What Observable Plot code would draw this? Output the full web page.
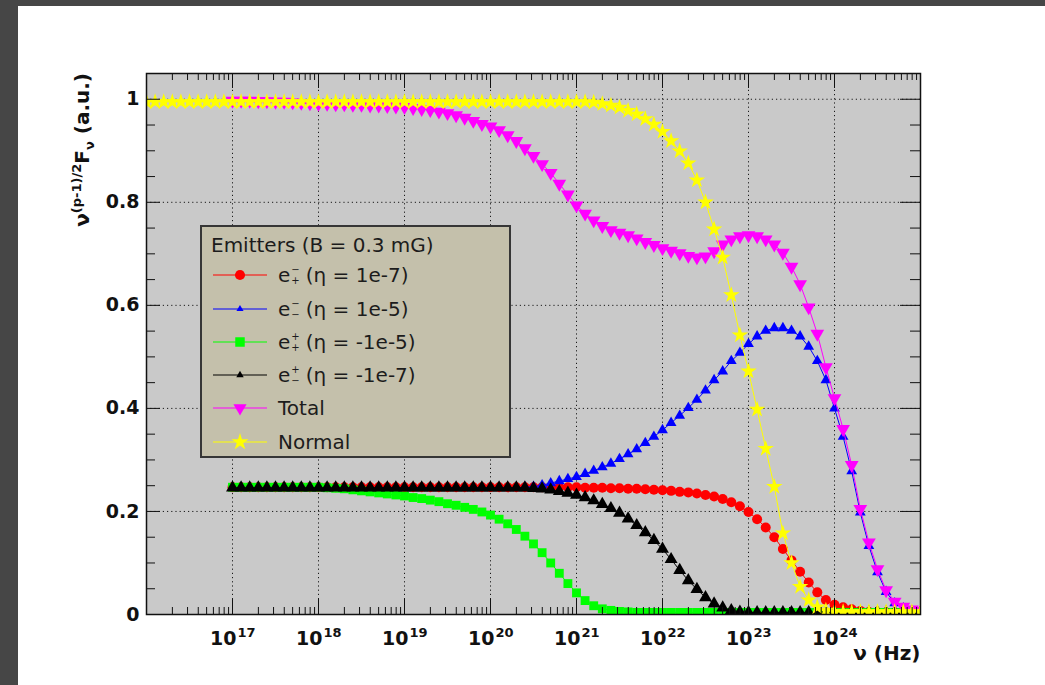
<!DOCTYPE html>
<html>
<head>
<meta charset="utf-8">
<script src="https://cdn.jsdelivr.net/npm/d3@7"></script>
<script src="https://cdn.jsdelivr.net/npm/@observablehq/plot@0.6"></script>
<style>
  html, body { margin: 0; padding: 0; }
  body { background: #464646; width: 1045px; height: 685px; overflow: hidden; position: relative; font-family: "DejaVu Sans", sans-serif; }
  #panel { position: absolute; left: 18px; top: 6px; width: 1027px; height: 679px; background: #ffffff; }
  #chart { position: absolute; left: 0; top: 0; }
  #legend { position: absolute; left: 200px; top: 225px; width: 311px; height: 233px; box-sizing: border-box;
            background: #c4c0ab; border: 2px solid #363636; color: #1c1c1c; font-size: 20px; }
  #legend .title { position: absolute; left: 9px; top: 6px; white-space: nowrap; }
  #legend .row { position: absolute; left: 0; height: 26px; display: flex; align-items: center; white-space: nowrap; }
  #legend .row svg { margin-left: 11px; margin-right: 11px; }
  .lab { display: flex; align-items: center; }
  .ss { display: inline-flex; flex-direction: column; justify-content: center; font-size: 10px; line-height: 11px; height: 24px; margin: 0 6px 0 1px; }
</style>
</head>
<body>
<div id="panel"></div>
<div id="chart"></div>
<div id="legend"></div>
<script>
// ---------------- data ----------------
// sample points: log10(nu / Hz)
const logNu = [
  16.0,16.1,16.2,16.3,16.4,16.5,16.6,16.7,16.8,16.9,
  17.0,17.1,17.2,17.3,17.4,17.5,17.6,17.7,17.8,17.9,
  18.0,18.1,18.2,18.3,18.4,18.5,18.6,18.7,18.8,18.9,
  19.0,19.1,19.2,19.3,19.4,19.5,19.6,19.7,19.8,19.9,
  20.0,20.1,20.2,20.3,20.4,20.5,20.6,20.7,20.8,20.9,
  21.0,21.1,21.2,21.3,21.4,21.5,21.6,21.7,21.8,21.9,
  22.0,22.1,22.2,22.3,22.4,22.5,22.6,22.7,22.8,22.9,
  23.0,23.1,23.2,23.3,23.4,23.5,23.6,23.7,23.8,23.9,
  24.0,24.1,24.2,24.3,24.4,24.5,24.6,24.7,24.8,24.9,
  25.0
];

// e-_+ (eta = 1e-7), red
const ePlusEta1e7 = [
  null,null,null,null,null,null,null,null,null,null,
  0.247,0.247,0.247,0.247,0.247,0.247,0.247,0.247,0.247,0.247,
  0.247,0.247,0.247,0.247,0.247,0.247,0.247,0.247,0.247,0.247,
  0.247,0.247,0.247,0.247,0.247,0.247,0.247,0.247,0.247,0.247,
  0.247,0.247,0.247,0.247,0.247,0.247,0.247,0.247,0.247,0.247,
  0.247,0.246,0.246,0.246,0.245,0.245,0.244,0.244,0.243,0.242,
  0.241,0.240,0.238,0.237,0.235,0.232,0.229,0.224,0.218,0.210,
  0.199,0.185,0.169,0.150,0.127,0.105,0.083,0.062,0.043,0.028,
  0.019,0.014,0.010,0.007,0.005,0.004,0.004,0.004,0.004,0.004,
  0.004
];

// e-_- (eta = 1e-5), blue
const eMinusEta1e5 = [
  null,null,null,null,null,null,null,null,null,null,
  0.246,0.246,0.246,0.246,0.246,0.246,0.246,0.246,0.246,0.246,
  0.246,0.246,0.246,0.246,0.246,0.246,0.246,0.246,0.246,0.246,
  0.246,0.246,0.246,0.246,0.246,0.246,0.246,0.246,0.246,0.246,
  0.246,0.246,0.246,0.246,0.247,0.248,0.251,0.255,0.259,0.263,
  0.267,0.273,0.279,0.286,0.293,0.302,0.311,0.321,0.333,0.345,
  0.358,0.372,0.386,0.401,0.417,0.435,0.455,0.472,0.492,0.508,
  0.525,0.540,0.551,0.556,0.556,0.551,0.540,0.520,0.492,0.455,
  0.400,0.345,0.278,0.198,0.133,0.082,0.044,0.022,0.012,0.007,
  0.005
];

// e+_+ (eta = -1e-5), green
const pPlusEta1e5 = [
  null,null,null,null,null,null,null,null,null,null,
  0.247,0.247,0.247,0.247,0.247,0.247,0.247,0.247,0.247,0.247,
  0.247,0.246,0.245,0.244,0.242,0.240,0.238,0.236,0.234,0.232,
  0.230,0.227,0.225,0.222,0.219,0.215,0.212,0.208,0.204,0.199,
  0.193,0.185,0.176,0.165,0.152,0.137,0.120,0.100,0.080,0.060,
  0.042,0.027,0.017,0.011,0.008,0.006,0.005,0.004,0.004,0.004,
  0.004,0.004,0.004,0.004,0.004,0.004,0.004,0.004,0.004,0.004,
  0.004,0.004,0.004,0.004,0.004,0.004,0.004,0.004,0.004,0.004,
  0.004,0.004,0.004,0.004,0.004,0.004,0.004,0.004,0.004,0.004,
  0.004
];

// e+_- (eta = -1e-7), black
const pMinusEta1e7 = [
  null,null,null,null,null,null,null,null,null,null,
  0.246,0.246,0.246,0.246,0.246,0.246,0.246,0.246,0.246,0.246,
  0.246,0.246,0.246,0.246,0.246,0.246,0.246,0.246,0.246,0.246,
  0.246,0.246,0.246,0.246,0.246,0.246,0.246,0.246,0.246,0.246,
  0.246,0.246,0.246,0.246,0.246,0.245,0.244,0.242,0.239,0.236,
  0.232,0.227,0.221,0.214,0.206,0.197,0.186,0.173,0.159,0.144,
  0.127,0.107,0.086,0.066,0.049,0.033,0.021,0.013,0.008,0.005,
  0.004,0.004,0.004,0.004,0.004,0.004,0.004,0.004,0.004,0.004,
  0.004,0.004,0.004,0.004,0.004,0.004,0.004,0.004,0.004,0.004,
  0.004
];

// Total, magenta
const totalValues = [
  null,null,null,null,null,null,null,null,null,null,
  0.997,0.997,0.997,0.996,0.996,0.995,0.995,0.994,0.993,0.992,
  0.991,0.991,0.990,0.990,0.989,0.989,0.988,0.988,0.987,0.986,
  0.985,0.983,0.981,0.979,0.976,0.973,0.969,0.964,0.958,0.952,
  0.947,0.940,0.930,0.919,0.905,0.890,0.874,0.857,0.836,0.815,
  0.794,0.778,0.765,0.754,0.746,0.741,0.736,0.730,0.723,0.717,
  0.711,0.706,0.701,0.696,0.693,0.695,0.705,0.718,0.728,0.734,
  0.736,0.734,0.728,0.718,0.702,0.675,0.641,0.596,0.545,0.480,
  0.420,0.360,0.290,0.205,0.140,0.088,0.047,0.025,0.015,0.010,
  0.007
];

// Normal, yellow
const normalValues = [
  0.995,0.995,0.995,0.995,0.995,0.995,0.995,0.995,0.995,0.995,
  0.995,0.995,0.995,0.995,0.995,0.995,0.995,0.995,0.995,0.995,
  0.995,0.995,0.995,0.995,0.995,0.995,0.995,0.995,0.995,0.995,
  0.995,0.995,0.995,0.995,0.995,0.995,0.995,0.995,0.995,0.995,
  0.995,0.995,0.995,0.995,0.995,0.995,0.995,0.995,0.995,0.995,
  0.995,0.995,0.994,0.991,0.988,0.984,0.978,0.971,0.962,0.951,
  0.937,0.919,0.899,0.876,0.843,0.800,0.748,0.693,0.620,0.542,
  0.472,0.398,0.322,0.248,0.158,0.100,0.054,0.028,0.014,0.008,
  0.005,0.005,0.005,0.005,0.005,0.005,0.005,0.005,0.005,0.005,
  0.005
];

// axis ticks and labels
const xTickValues = [1e17, 1e18, 1e19, 1e20, 1e21, 1e22, 1e23, 1e24];
const xTickExponents = ["17", "18", "19", "20", "21", "22", "23", "24"];
const yTickValues = [0, 0.2, 0.4, 0.6, 0.8, 1];
const yTickLabels = ["0", "0.2", "0.4", "0.6", "0.8", "1"];

// ---------------- chart ----------------
const W = 1045, H = 685;
const mL = 146, mR = 125, mT = 73, mB = 71;
const innerW = W - mL - mR, innerH = H - mT - mB;

const triangleDown = {
  draw(context, size) {
    const y = -Math.sqrt(size / (Math.sqrt(3) * 3));
    context.moveTo(0, -y * 2);
    context.lineTo(-Math.sqrt(3) * y, y);
    context.lineTo(Math.sqrt(3) * y, y);
    context.closePath();
  }
};

const series = [
  {values: ePlusEta1e7,  color: "#ff0000", symbol: "circle",   r: 5.0},
  {values: eMinusEta1e5, color: "#0000ff", symbol: "triangle", r: 4.0},
  {values: pPlusEta1e5,  color: "#00ff00", symbol: "square",   r: 5.0},
  {values: pMinusEta1e7, color: "#000000", symbol: "triangle", r: 4.8},
  {values: totalValues,  color: "#ff00ff", symbol: triangleDown, r: 5.1},
  {values: normalValues, color: "#ffff00", symbol: "star",     r: 5.2}
];

// minor tick positions (axis decoration)
const xMinor = [];
for (let n = 16; n <= 24; n++) for (let k = 2; k <= 9; k++) xMinor.push(k * Math.pow(10, n));
const yMinor = d3.range(0, 1.06, 0.05).filter(v => Math.abs(v * 5 - Math.round(v * 5)) > 1e-6);

const dataMarks = series.flatMap(s => {
  const rows = logNu.map((e, i) => ({nu: Math.pow(10, e), v: s.values[i]})).filter(d => d.v != null);
  return [
    Plot.line(rows, {x: "nu", y: "v", stroke: s.color, strokeWidth: 1, clip: true}),
    Plot.dot(rows, {x: "nu", y: "v", symbol: s.symbol, r: s.r, fill: s.color, clip: true})
  ];
});

const tickStroke = "#111";
const gridStyle = {stroke: "#1a1a1a", strokeWidth: 1, strokeDasharray: "1.2,3"};

const chart = Plot.plot({
  width: W, height: H,
  marginLeft: mL, marginRight: mR, marginTop: mT, marginBottom: mB,
  x: {type: "log", domain: [1e16, 1e25], axis: null},
  y: {domain: [0, 1.05], axis: null},
  style: {background: "transparent", fontFamily: "'DejaVu Sans', sans-serif", overflow: "visible"},
  marks: [
    Plot.frame({fill: "#c9c9c9", stroke: null}),
    // dotted grid
    Plot.ruleX(xTickValues, {x: d => d, ...gridStyle}),
    Plot.ruleY(yTickValues.filter(v => v > 0), {y: d => d, ...gridStyle}),
    // data
    ...dataMarks,
    // ticks (inward, all four sides)
    Plot.ruleX(xTickValues, {x: d => d, insetTop: innerH - 15, stroke: tickStroke}),
    Plot.ruleX(xTickValues, {x: d => d, insetBottom: innerH - 15, stroke: tickStroke}),
    Plot.ruleX(xMinor, {x: d => d, insetTop: innerH - 7, stroke: tickStroke}),
    Plot.ruleX(xMinor, {x: d => d, insetBottom: innerH - 7, stroke: tickStroke}),
    Plot.ruleY(yTickValues, {y: d => d, insetRight: innerW - 14, stroke: tickStroke}),
    Plot.ruleY(yTickValues, {y: d => d, insetLeft: innerW - 20, stroke: tickStroke}),
    Plot.ruleY(yMinor, {y: d => d, insetRight: innerW - 9, stroke: tickStroke}),
    Plot.ruleY(yMinor, {y: d => d, insetLeft: innerW - 10, stroke: tickStroke}),
    Plot.frame({stroke: "#111", strokeWidth: 1.5}),
    // tick labels
    Plot.text(xTickValues, {x: d => d, frameAnchor: "bottom", dy: 30, dx: 4, textAnchor: "end",
      text: () => "10", fontSize: 19, fontWeight: "bold", fill: "#111"}),
    Plot.text(xTickValues, {x: d => d, frameAnchor: "bottom", dy: 22, dx: 5, textAnchor: "start",
      text: (d, i) => xTickExponents[i], fontSize: 13, fontWeight: "bold", fill: "#111"}),
    Plot.text(yTickValues, {y: d => d, frameAnchor: "left", dx: -7, textAnchor: "end",
      text: (d, i) => yTickLabels[i], fontSize: 19, fontWeight: "bold", fill: "#111"}),
    // x axis title
    Plot.text(["ν (Hz)"], {frameAnchor: "bottom-right", dy: 45, textAnchor: "end", text: d => d,
      fontSize: 20, fontWeight: "bold", fill: "#111"})
  ]
});
document.getElementById("chart").appendChild(chart);

// y axis title with super/subscripts
const svg = d3.select(chart);
const yt = svg.append("text")
  .attr("transform", `translate(89,${mT}) rotate(-90)`)
  .attr("text-anchor", "end")
  .attr("fill", "#111")
  .style("font-family", "'DejaVu Sans', sans-serif")
  .style("font-weight", "bold")
  .style("font-size", "20px");
yt.append("tspan").text("ν");
yt.append("tspan").attr("font-size", "13px").attr("dy", -8).text("(p-1)/2");
yt.append("tspan").attr("dy", 8).text("F");
yt.append("tspan").attr("font-size", "13px").attr("dy", 5).text("ν");
yt.append("tspan").attr("dy", -5).text(" (a.u.)");

// ---------------- legend ----------------
const legendTitle = "Emitters (B = 0.3 mG)";
const legendLabels = [
  ["e", "−", "+", "(η = 1e-7)"],
  ["e", "−", "−", "(η = 1e-5)"],
  ["e", "+", "+", "(η = -1e-5)"],
  ["e", "+", "−", "(η = -1e-7)"],
  ["Total"],
  ["Normal"]
];
const legendSymbols = [d3.symbolCircle, d3.symbolTriangle, d3.symbolSquare, d3.symbolTriangle, triangleDown, d3.symbolStar];
const legendSizes = [80, 22, 90, 24, 75, 90];
const legend = d3.select("#legend");
legend.append("div").attr("class", "title").text(legendTitle);
const rowCenters = [48, 81.5, 115, 148, 181, 215];
legendLabels.forEach((lab, i) => {
  const row = legend.append("div").attr("class", "row").style("top", (rowCenters[i] - 13) + "px");
  const s = row.append("svg").attr("width", 54).attr("height", 20);
  s.append("line").attr("x1", 0).attr("x2", 54).attr("y1", 10).attr("y2", 10)
    .attr("stroke", series[i].color).attr("stroke-width", 1.2);
  s.append("path").attr("transform", "translate(27,10)")
    .attr("d", d3.symbol().type(legendSymbols[i]).size(legendSizes[i])())
    .attr("fill", series[i].color);
  const t = row.append("span").attr("class", "lab");
  if (lab.length === 1) {
    t.text(lab[0]);
  } else {
    t.append("span").text(lab[0]);
    const ss = t.append("span").attr("class", "ss");
    ss.append("span").text(lab[1]);
    ss.append("span").text(lab[2]);
    t.append("span").text(lab[3]);
  }
});
</script>
</body>
</html>
